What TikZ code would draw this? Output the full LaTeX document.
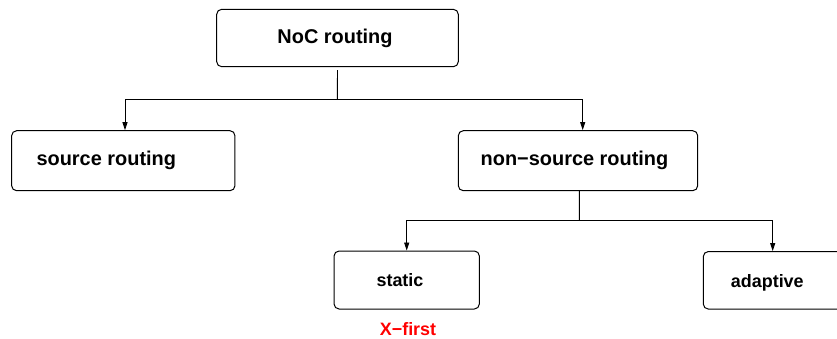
\documentclass[tikz,border=0pt]{standalone}
\usepackage{fontspec}
\setmainfont{Liberation Sans}
\usetikzlibrary{arrows.meta}
\begin{document}
\begin{tikzpicture}[x=1bp,y=-1bp,
  box/.style 2 args={draw, line width=1bp, rounded corners=5bp, inner sep=0pt,
    minimum width=#1, minimum height=#2},
  big/.style={font=\fontsize{20}{24}\selectfont\bfseries},
  small/.style={font=\fontsize{18}{22}\selectfont\bfseries},
  conn/.style={line width=0.9bp},
  arr/.style={conn, -{Triangle[length=8bp,width=5bp]}}]
\useasboundingbox (0,0) rectangle (837,338);
\node[box={241.6bp}{57.4bp}, label={[big, xshift=-2.5bp]center:NoC routing}] (noc) at (337.5,38) {};
\node[box={223.3bp}{60bp}, label={[big, xshift=-17bp]center:source routing}] (src) at (123.3,160.7) {};
\node[box={239.4bp}{60bp}, label={[big, xshift=-3.5bp]center:non−source routing}] (ns) at (578,160.7) {};
\node[box={145.3bp}{58bp}, label={[small, xshift=-6.7bp]center:static}] (st) at (406.7,280) {};
\node[box={146bp}{57.5bp}, label={[small, xshift=-9bp, yshift=-2.5bp]center:adaptive}] (ad) at (776.3,280.3) {};
\node[small, text=red] (xf) at (408,329) {X−first};
\coordinate (j1) at (337.3,99.3);
\coordinate (j2) at (579.3,220.7);
\draw[conn] ([yshift=-3bp]noc.south) -- (j1);
\draw[arr] (j1) -| ([xshift=1.7bp]src.north);
\draw[arr] (j1) -| ([xshift=4.7bp]ns.north);
\draw[conn] ([xshift=1.3bp]ns.south) -- (j2);
\draw[arr] (j2) -| (st.north);
\draw[arr] (j2) -| ([xshift=-3.6bp]ad.north);
\end{tikzpicture}
\end{document}
